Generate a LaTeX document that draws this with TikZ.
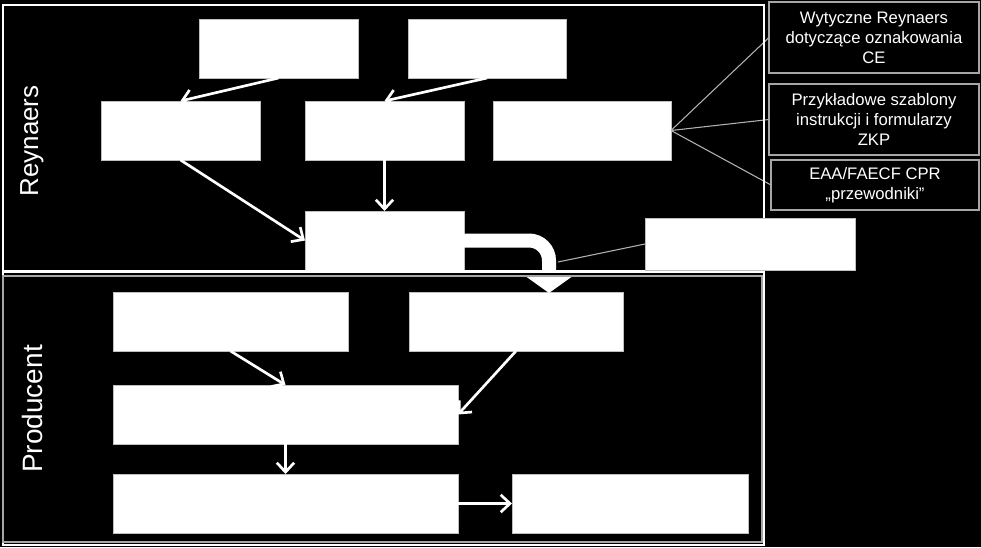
\documentclass[tikz,border=0pt]{standalone}
\usepackage{fontspec}
\setmainfont{Liberation Sans}
\usetikzlibrary{arrows.meta}

\tikzset{
    wbox/.style={fill=white, draw=gray!50, line width=0.5pt, anchor=north west, inner sep=0pt, outer sep=0pt},
    sidebox/.style={fill=black, draw=gray!70, line width=1.2pt, anchor=north west, inner sep=0pt, outer sep=0pt,
        text=white, align=center, font=\fontsize{12.5}{15}\selectfont},
    arr/.style={draw=white, line width=2pt, -{Straight Barb[length=7pt,width=13pt]}},
    bigarr/.style={draw=white, line width=10.5pt, rounded corners=15pt, -{Triangle[length=12pt,width=33pt]}},
    thin/.style={draw=gray!60, line width=0.8pt},
    frame/.style={draw=white, line width=2pt}
}

\begin{document}
\begin{tikzpicture}[x=0.75pt, y=-0.75pt]
    % Background
    \fill[black] (0,0) rectangle (981,547);
    \useasboundingbox (0,0) rectangle (981,547);

    % Reynaers part
    \node[wbox, minimum width=119.25pt, minimum height=44.25pt] (a1) at (199,19) {};
    \node[wbox, minimum width=118.5pt, minimum height=44.25pt] (a2) at (408,19) {};
    \node[wbox, minimum width=119.25pt, minimum height=44.25pt] (b1) at (101,101) {};
    \node[wbox, minimum width=119.25pt, minimum height=44.25pt] (b2) at (305,101) {};
    \node[wbox, minimum width=133.5pt, minimum height=44.25pt] (b3) at (493,101) {};
    \node[wbox, minimum width=119.25pt, minimum height=44.25pt] (c) at (305,211) {};

    % Producent part
    \node[wbox, minimum width=176.25pt, minimum height=44.25pt] (e1) at (113,292) {};
    \node[wbox, minimum width=160.5pt, minimum height=44.25pt] (e2) at (409,292) {};
    \node[wbox, minimum width=258.75pt, minimum height=44.25pt] (f) at (113,385) {};
    \node[wbox, minimum width=258.75pt, minimum height=44.25pt] (g) at (113,474) {};
    \node[wbox, minimum width=177pt, minimum height=44.25pt] (h) at (512,474) {};

    % Side notes
    \node[sidebox, minimum width=157.5pt, minimum height=53.25pt] (s1) at (769,2)
        {Wytyczne Reynaers\\dotyczące oznakowania\\CE};
    \node[sidebox, minimum width=157.5pt, minimum height=53.25pt] (s2) at (769,84)
        {Przykładowe szablony\\instrukcji i formularzy\\ZKP};
    \node[sidebox, minimum width=156pt, minimum height=37.5pt] (s3) at (771,160)
        {EAA/FAECF CPR\\„przewodniki”};

    % Side labels
    \node[rotate=90, text=white, font=\fontsize{19.5}{23}\selectfont] (reyn) at (32,141) {Reynaers};
    \node[rotate=90, text=white, font=\fontsize{21}{25}\selectfont] (prod) at (32,409) {Producent};

    % Arrows
    \draw[arr] (a1.south) -- (b1.north);
    \draw[arr] (a2.south) -- (b2.north);
    \draw[arr] (b1.south) -- (c.west);
    \draw[arr] (b2.south) -- (c.north);
    \draw[arr] (e1.south) -- (f.north);
    \draw[arr] (e2.south) -- (f.east);
    \draw[arr] (f.south) -- (g.north);
    \draw[arr] (g.east) -- (h.west);

    % Thick arrow down to the producer
    \coordinate (tip) at (549,293);
    \draw[bigarr] (c.east) -| (tip);

    % Lines to the side notes
    \draw[thin] (b3.east) -- (s1.west);
    \draw[thin] (b3.east) -- (s2.west);
    \draw[thin] (b3.east) -- (s3.west);

    % Frames
    \fill[black] (3,272) rectangle (764,276);
    \draw[frame] (3,5) rectangle (764,545);
    \draw[frame] (3,271.5) -- (764,271.5);
    \draw[draw=gray!70, line width=1.2pt] (3,276) rectangle (762,542);

    % Box over the frame
    \node[wbox, minimum width=157.5pt, minimum height=39pt] (d) at (645,218) {};
    \coordinate (hook) at (558,262);
    \draw[thin] (d.west) -- (hook);

\end{tikzpicture}
\end{document}
